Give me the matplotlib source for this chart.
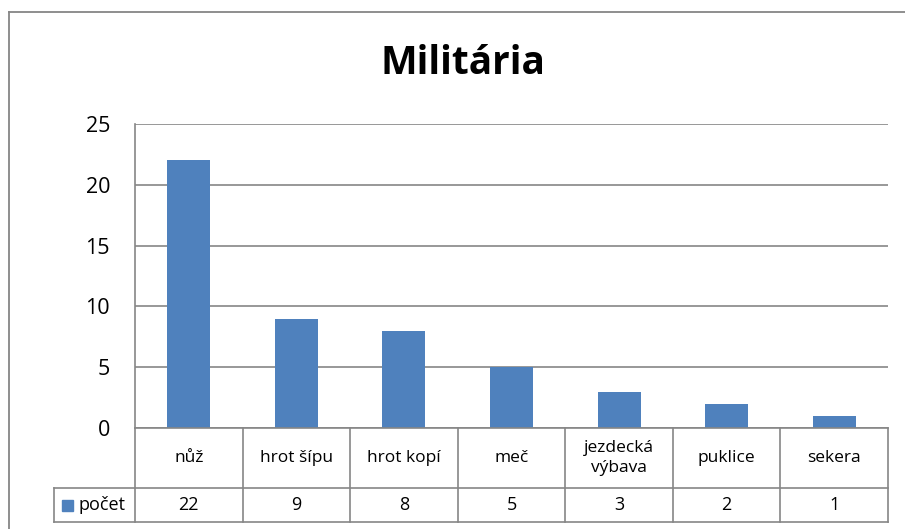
import matplotlib
matplotlib.use("Agg")
import matplotlib.pyplot as plt
from matplotlib.patches import Rectangle
from matplotlib.lines import Line2D

categories = ["nůž", "hrot šípu", "hrot kopí", "meč", "jezdecká\nvýbava", "puklice", "sekera"]
values = [22, 9, 8, 5, 3, 2, 1]
series_name = "počet"
title = "Militária"
yticks = [0, 5, 10, 15, 20, 25]

W, H = 905, 529
BAR = "#4F81BD"
GRID = "#868686"
FONT = "Open Sans"

fig = plt.figure(figsize=(W / 100, H / 100), dpi=100)
fig.patch.set_facecolor("white")

# outer chart border (top and left visible)
fig.add_artist(Line2D([9 / W, 9 / W], [0, 1 - 12 / H], color=GRID, lw=1.3, transform=fig.transFigure))
fig.add_artist(Line2D([9 / W, 1], [1 - 12 / H, 1 - 12 / H], color=GRID, lw=1.3, transform=fig.transFigure))

px0, px1 = 135, 888
ytop, ybase = 124, 428
ax = fig.add_axes([px0 / W, 1 - ybase / H, (px1 - px0) / W, (ybase - ytop) / H])
n = len(categories)
ax.bar(range(n), values, width=0.4, color=BAR, zorder=3)
ax.set_xlim(-0.5, n - 0.5)
ax.set_ylim(0, 25)
ax.set_yticks(yticks)
ax.set_yticklabels([str(t) for t in yticks], fontsize=15.5, family=FONT)
ax.tick_params(axis="y", length=0, pad=18)
ax.set_xticks([])
ax.yaxis.grid(True, color=GRID, lw=1.2, zorder=0)
for s in ["right", "bottom"]:
    ax.spines[s].set_visible(False)
ax.spines["top"].set_visible(False)
ax.spines["left"].set_color(GRID)
ax.spines["left"].set_linewidth(1.2)

fig.text(463 / W, 1 - 63 / H, title, ha="center", va="center", fontsize=28,
         fontweight="bold", family=FONT)

# data table
colw = (px1 - px0) / n
leg_left = 54
tx0 = -0.5 - (px0 - leg_left) / colw
tax = fig.add_axes([leg_left / W, 1 - 522 / H, (px1 - leg_left) / W, (522 - ybase) / H])
tax.set_xlim(tx0, n - 0.5)
tax.set_ylim(0, 522 - ybase)
tax.axis("off")
row_split = 522 - 488
top = 522 - ybase
lk = dict(color=GRID, lw=1.2, clip_on=False)
for k in range(n + 1):
    tax.plot([-0.5 + k, -0.5 + k], [0, top], **lk)
tax.plot([tx0, tx0], [0, row_split], **lk)
tax.plot([-0.5, n - 0.5], [top, top], **lk)
tax.plot([tx0, n - 0.5], [row_split, row_split], **lk)
tax.plot([tx0, n - 0.5], [0, 0], **lk)
TS = 12.5
for i, (c, v) in enumerate(zip(categories, values)):
    tax.text(i, (top + row_split) / 2, c, ha="center", va="center", fontsize=TS,
             family=FONT, linespacing=1.4)
    tax.text(i, row_split / 2, str(v), ha="center", va="center", fontsize=TS + 0.5, family=FONT)
# legend key in table
tax.text(tx0 + 24 / colw, row_split / 2, series_name, ha="left", va="center", fontsize=TS + 0.5, family=FONT)
tax.add_patch(Rectangle((tx0 + 8 / colw, row_split / 2 - 5.5), 11 / colw, 11, color=BAR, clip_on=False))

fig.savefig("out.png", dpi=100)
